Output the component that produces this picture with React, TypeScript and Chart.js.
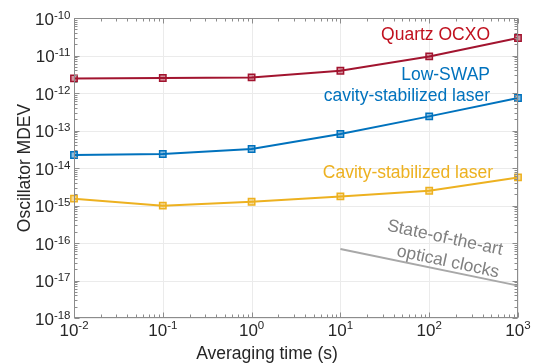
import React, { useEffect, useRef } from "react";
import { Chart, registerables } from "chart.js";

Chart.register(...registerables);

const taus = [0.01, 0.1, 1, 10, 100, 1000];
const quartzOCXO = [2.45e-12, 2.51e-12, 2.61e-12, 3.93e-12, 9.46e-12, 2.93e-11];
const lowSwapLaser = [2.22e-14, 2.36e-14, 3.21e-14, 8.07e-14, 2.38e-13, 7.36e-13];
const cavityLaser = [1.52e-15, 9.9e-16, 1.26e-15, 1.75e-15, 2.48e-15, 5.61e-15];
const clockTaus = [10, 1000];
const opticalClocks = [6.9e-17, 7.3e-18];

const xExponents = [-2, -1, 0, 1, 2, 3];
const yExponents = [-18, -17, -16, -15, -14, -13, -12, -11, -10];

const FONT = '"Liberation Sans", Arial, Helvetica, sans-serif';
const AXIS_COLOR = "#8c8c8c";
const TEXT_COLOR = "#262626";

const RED = "#A2142F";
const BLUE = "#0072BD";
const YELLOW = "#EDB120";
const GRAY = "#a8a8a8";

function hexA(hex: string, a: number) {
  const n = parseInt(hex.slice(1), 16);
  return `rgba(${(n >> 16) & 255},${(n >> 8) & 255},${n & 255},${a})`;
}

const decorPlugin = {
  id: "decor",
  beforeDatasetsDraw(chart: any) {
    const { ctx, chartArea: a, scales } = chart;
    const xs = scales.x, ys = scales.y;
    ctx.save();
    ctx.strokeStyle = "#ebebeb";
    ctx.lineWidth = 1;
    for (const e of xExponents) {
      const px = Math.round(xs.getPixelForValue(Math.pow(10, e))) + 0.5;
      ctx.beginPath();
      ctx.moveTo(px, a.top);
      ctx.lineTo(px, a.bottom);
      ctx.stroke();
    }
    for (const e of yExponents) {
      const py = Math.round(ys.getPixelForValue(Math.pow(10, e))) + 0.5;
      ctx.beginPath();
      ctx.moveTo(a.left, py);
      ctx.lineTo(a.right, py);
      ctx.stroke();
    }
    ctx.restore();
  },
  afterDraw(chart: any) {
    const { ctx, chartArea: a, scales } = chart;
    const xs = scales.x, ys = scales.y;
    ctx.save();
    // box
    ctx.strokeStyle = AXIS_COLOR;
    ctx.lineWidth = 1;
    const L = Math.round(a.left) + 0.5, R = Math.round(a.right) - 0.5;
    const T = Math.round(a.top) + 0.5, B = Math.round(a.bottom) - 0.5;
    ctx.strokeRect(L, T, R - L, B - T);
    // ticks x
    ctx.beginPath();
    for (let i = 0; i < xExponents.length; i++) {
      const e = xExponents[i];
      for (let k = 1; k <= 9; k++) {
        if (i === xExponents.length - 1 && k > 1) break;
        const px = Math.round(xs.getPixelForValue(k * Math.pow(10, e))) + 0.5;
        const len = k === 1 ? 5 : 3;
        ctx.moveTo(px, B);
        ctx.lineTo(px, B - len);
        ctx.moveTo(px, T);
        ctx.lineTo(px, T + len);
      }
    }
    for (let i = 0; i < yExponents.length; i++) {
      const e = yExponents[i];
      for (let k = 1; k <= 9; k++) {
        if (i === yExponents.length - 1 && k > 1) break;
        const py = Math.round(ys.getPixelForValue(k * Math.pow(10, e))) + 0.5;
        const len = k === 1 ? 5 : 3;
        ctx.moveTo(L, py);
        ctx.lineTo(L + len, py);
        ctx.moveTo(R, py);
        ctx.lineTo(R - len, py);
      }
    }
    ctx.stroke();

    // tick labels
    ctx.fillStyle = TEXT_COLOR;
    ctx.textBaseline = "middle";
    const baseFont = `17px ${FONT}`;
    const expFont = `11.5px ${FONT}`;
    for (const e of yExponents) {
      const py = ys.getPixelForValue(Math.pow(10, e));
      const expStr = String(e);
      ctx.font = expFont;
      const ew = ctx.measureText(expStr).width;
      ctx.textAlign = "right";
      ctx.fillText(expStr, 70.5, py - 2.5);
      ctx.font = baseFont;
      ctx.fillText("10", 70.5 - ew, py + 2);
    }
    for (const e of xExponents) {
      const px = xs.getPixelForValue(Math.pow(10, e));
      const expStr = String(e);
      ctx.font = expFont;
      const ew = ctx.measureText(expStr).width;
      ctx.font = baseFont;
      const bw = ctx.measureText("10").width;
      const start = px - (ew + bw) / 2;
      ctx.textAlign = "left";
      ctx.fillText("10", start, a.bottom + 13);
      ctx.font = expFont;
      ctx.fillText(expStr, start + bw, a.bottom + 8);
    }

    // axis titles
    ctx.font = `17.5px ${FONT}`;
    ctx.textAlign = "center";
    ctx.textBaseline = "alphabetic";
    ctx.fillText("Averaging time (s)", 267, 359);
    ctx.save();
    ctx.translate(30, 168);
    ctx.rotate(-Math.PI / 2);
    ctx.fillText("Oscillator MDEV", 0, 0);
    ctx.restore();

    // annotations
    ctx.textAlign = "right";
    ctx.fillStyle = "#C0101E";
    ctx.fillText("Quartz OCXO", 490, 39.5);
    ctx.fillStyle = BLUE;
    ctx.fillText("Low-SWAP", 490, 80);
    ctx.fillText("cavity-stabilized laser", 490, 101);
    ctx.fillStyle = YELLOW;
    ctx.fillText("Cavity-stabilized laser", 493, 177.5);

    ctx.fillStyle = "#808080";
    ctx.textAlign = "center";
    ctx.textBaseline = "middle";
    const ang = (12 * Math.PI) / 180;
    ctx.save();
    ctx.translate(445, 238);
    ctx.rotate(ang);
    ctx.fillText("State-of-the-art", 0, 0);
    ctx.restore();
    ctx.save();
    ctx.translate(448, 262);
    ctx.rotate(ang);
    ctx.fillText("optical clocks", 0, 0);
    ctx.restore();

    ctx.restore();
  },
};

function series(xs: number[], ys: number[]) {
  return xs.map((x, i) => ({ x, y: ys[i] }));
}

function lineDs(label: string, data: any[], color: string, markers: boolean) {
  return {
    label,
    data,
    borderColor: color,
    backgroundColor: hexA(color, 0.45),
    borderWidth: 2,
    pointStyle: "rect",
    pointRadius: markers ? 4.5 : 0,
    pointBorderWidth: 1.5,
    pointBorderColor: color,
    pointBackgroundColor: hexA(color, 0.45),
    tension: 0,
    clip: false,
  };
}

export default function App() {
  const ref = useRef<HTMLCanvasElement | null>(null);
  useEffect(() => {
    if (!ref.current) return;
    const chart = new Chart(ref.current, {
      type: "line",
      data: {
        datasets: [
          lineDs("Optical clocks", series(clockTaus, opticalClocks), GRAY, false),
          lineDs("Cavity-stabilized laser", series(taus, cavityLaser), YELLOW, true),
          lineDs("Low-SWAP cavity-stabilized laser", series(taus, lowSwapLaser), BLUE, true),
          lineDs("Quartz OCXO", series(taus, quartzOCXO), RED, true),
        ] as any,
      },
      options: {
        animation: false,
        responsive: false,
        devicePixelRatio: 1,
        layout: { padding: { left: 74, right: 19, top: 18, bottom: 46 } },
        plugins: { legend: { display: false }, tooltip: { enabled: false } },
        scales: {
          x: { type: "logarithmic", min: 0.01, max: 1000, display: false },
          y: { type: "logarithmic", min: 1e-18, max: 1e-10, display: false },
        },
      } as any,
      plugins: [decorPlugin],
    });
    return () => chart.destroy();
  }, []);
  return (
    <div style={{ position: "fixed", left: 0, top: 0, width: 537, height: 364, background: "#fff" }}>
      <canvas ref={ref} width={537} height={364} style={{ width: 537, height: 364 }} />
    </div>
  );
}
